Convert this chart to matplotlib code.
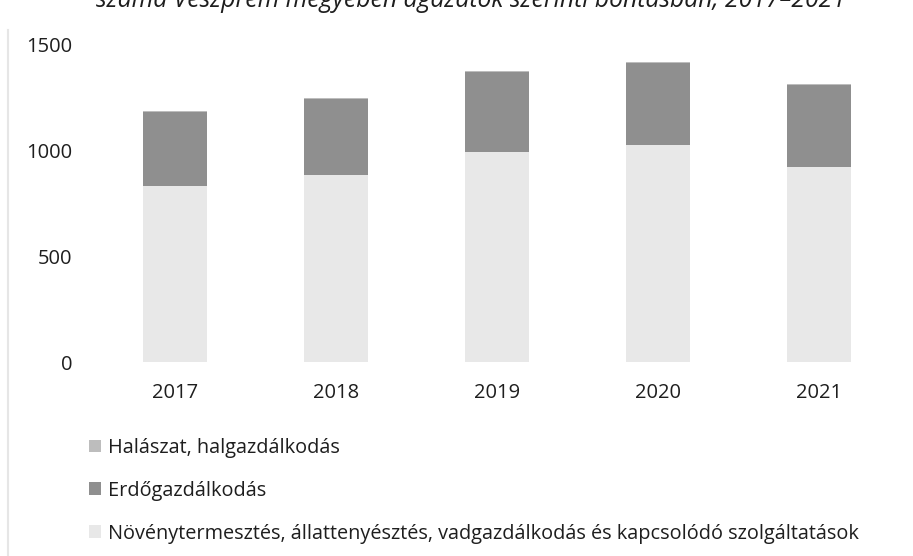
import matplotlib.pyplot as plt
from matplotlib.patches import Patch
from matplotlib.lines import Line2D

plt.rcParams['font.family'] = ['Open Sans', 'DejaVu Sans']

years = ['2017', '2018', '2019', '2020', '2021']
# stacked from bottom to top
novenyterm = [833, 885, 994, 1027, 923]
erdo = [350, 360, 378, 388, 388]
halaszat = [3, 3, 3, 3, 3]

labels = ['Halászat, halgazdálkodás',
          'Erdőgazdálkodás',
          'Növénytermesztés, állattenyésztés, vadgazdálkodás és kapcsolódó szolgáltatások']
colors = ['#bdbdbd', '#8f8f8f', '#e8e8e8']

fig = plt.figure(figsize=(9.13, 5.56), dpi=100)
ax = fig.add_axes([94.5 / 913, 1 - 362 / 556, 805 / 913, 317 / 556])

x = range(len(years))
bottom2 = [a + b for a, b in zip(novenyterm, erdo)]
ax.bar(x, novenyterm, width=0.4, color=colors[2])
ax.bar(x, erdo, width=0.4, bottom=novenyterm, color=colors[1])
ax.bar(x, halaszat, width=0.4, bottom=bottom2, color=colors[0])

ax.set_xlim(-0.5, 4.5)
ax.set_ylim(0, 1500)
ax.set_yticks([0, 500, 1000, 1500])
ax.set_xticks(list(x))
ax.set_xticklabels(years)
for s in ax.spines.values():
    s.set_visible(False)
ax.tick_params(axis='both', length=0, labelsize=14.5, colors='#1e1e1e')
ax.tick_params(axis='y', pad=16)
ax.tick_params(axis='x', pad=15)

handles = [Patch(facecolor=c, edgecolor='none') for c in colors]
fig.legend(handles, labels, loc='upper left', bbox_to_anchor=(71 / 913, 1 - 420 / 556),
           frameon=False, fontsize=14.3, handlelength=0.6, handleheight=0.6,
           handletextpad=0.35, labelspacing=1.15, labelcolor='#1e1e1e')

# cut-off title at the top of the scan
fig.text(471 / 913, 1 - 7 / 556,
         'száma Veszprém megyében ágazatok szerinti bontásban, 2017–2021',
         ha='center', va='baseline', fontsize=17.8, style='italic', color='#1e1e1e')

# faint scan border on the left
fig.add_artist(Line2D([8 / 913, 8 / 913], [0, 1 - 30 / 556], color='#e6e6e6', lw=1.5))

fig.savefig('out.png', dpi=100)
